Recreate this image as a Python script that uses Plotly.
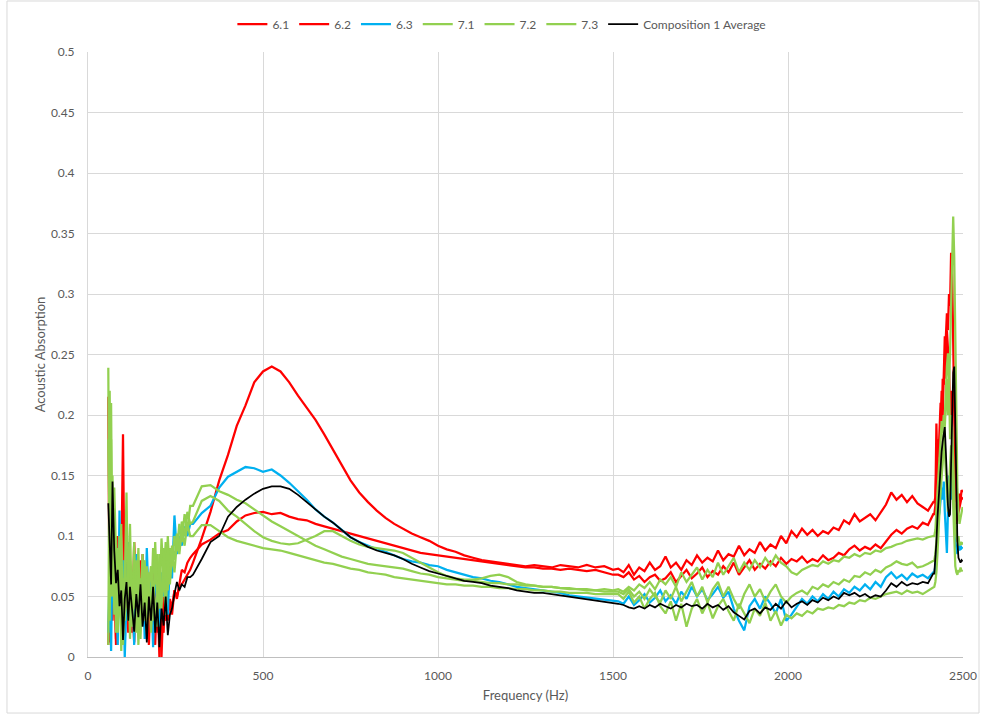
import plotly.graph_objects as go

# Sample frequencies (Hz), split into bands
F_LOW = [58, 62, 66, 70, 75, 80, 85, 90, 95, 100, 105, 110, 115, 120, 126, 132, 138, 144, 150, 156,
         162, 168, 174, 180, 186, 192, 198, 204, 210, 216, 222, 228, 234, 240, 247, 254, 261, 268, 276, 284, 292]
F_MID = [300, 325, 350, 375, 400, 425, 450, 475, 500, 525, 550, 575, 600, 625, 650, 675, 700, 725, 750, 775,
         800, 825, 850, 875, 900, 925, 950, 975, 1000, 1025, 1050, 1075, 1100, 1125, 1150, 1175, 1200, 1225,
         1250, 1275, 1300, 1325, 1350, 1375, 1400, 1425, 1450, 1475, 1500]
F_HIGH = [1515, 1530, 1545, 1560, 1575, 1590, 1605, 1620, 1635, 1650, 1665, 1680, 1695, 1710, 1725, 1740,
          1755, 1770, 1785, 1800, 1815, 1830, 1845, 1860, 1875, 1890, 1905, 1920, 1935, 1950, 1965, 1980,
          1995, 2010, 2025, 2040, 2055, 2070, 2085, 2100, 2115, 2130, 2145, 2160, 2175, 2190, 2205, 2220,
          2235, 2250, 2265, 2280, 2295, 2310, 2325, 2340, 2355, 2370, 2385, 2400, 2415]
F_PEAK = [2418, 2421, 2424, 2427, 2430, 2433, 2436, 2439, 2442, 2445, 2448, 2451, 2454, 2457, 2460, 2463,
          2466, 2469, 2472, 2475, 2478, 2481, 2484, 2487, 2490, 2493, 2496, 2499]

# ---- Sample 6.1 ----
S61_LOW = [0.215, 0.012, 0.090, 0.030, 0.075, 0.010, 0.060, 0.045, 0.070, 0.184,
           0.040, 0.065, 0.020, 0.075, 0.050, 0.012, 0.070, 0.035, 0.080, 0.028,
           0.062, 0.015, 0.055, 0.040, 0.075, 0.010, 0.060, 0.000, 0.045, 0.020,
           0.062, 0.030, 0.048, 0.040, 0.055, 0.050, 0.058, 0.060, 0.064, 0.068, 0.072]
S61_MID = [0.078, 0.098, 0.120, 0.146, 0.167, 0.191, 0.208, 0.227, 0.236, 0.240,
           0.236, 0.227, 0.216, 0.206, 0.196, 0.184, 0.171, 0.158, 0.146, 0.136,
           0.128, 0.121, 0.115, 0.110, 0.106, 0.102, 0.099, 0.096, 0.092, 0.089,
           0.087, 0.084, 0.082, 0.080, 0.079, 0.078, 0.077, 0.076, 0.075, 0.076,
           0.075, 0.074, 0.076, 0.075, 0.074, 0.076, 0.074, 0.075, 0.072]
S61_HIGH = [0.073, 0.070, 0.076, 0.068, 0.074, 0.071, 0.078, 0.072, 0.075, 0.083,
            0.074, 0.078, 0.072, 0.080, 0.076, 0.084, 0.078, 0.082, 0.079, 0.088,
            0.080, 0.085, 0.083, 0.092, 0.084, 0.089, 0.086, 0.095, 0.088, 0.093,
            0.090, 0.100, 0.094, 0.104, 0.099, 0.106, 0.101, 0.105, 0.100, 0.104,
            0.102, 0.107, 0.105, 0.113, 0.110, 0.118, 0.112, 0.115, 0.118, 0.113,
            0.120, 0.126, 0.136, 0.130, 0.134, 0.128, 0.133, 0.127, 0.124, 0.121, 0.128]
S61_PEAK = [0.128, 0.132, 0.150, 0.180, 0.165, 0.195, 0.210, 0.190, 0.230, 0.225,
            0.250, 0.275, 0.284, 0.270, 0.300, 0.290, 0.334, 0.320, 0.250, 0.180,
            0.140, 0.128, 0.132, 0.125, 0.135, 0.130, 0.138, 0.136]

# ---- Sample 6.2 ----
S62_LOW = [0.010, 0.060, 0.110, 0.035, 0.080, 0.015, 0.100, 0.050, 0.030, 0.070,
           0.010, 0.085, 0.045, 0.060, 0.020, 0.095, 0.050, 0.070, 0.025, 0.085,
           0.040, 0.070, 0.010, 0.065, 0.035, 0.080, 0.020, 0.060, 0.000, 0.050,
           0.030, 0.040, 0.045, 0.035, 0.055, 0.048, 0.062, 0.072, 0.070, 0.078, 0.082]
S62_MID = [0.085, 0.093, 0.097, 0.102, 0.105, 0.112, 0.117, 0.119, 0.120, 0.118,
           0.119, 0.116, 0.114, 0.113, 0.110, 0.108, 0.106, 0.104, 0.102, 0.100,
           0.098, 0.096, 0.094, 0.092, 0.090, 0.088, 0.086, 0.085, 0.084, 0.083,
           0.082, 0.081, 0.080, 0.079, 0.078, 0.077, 0.076, 0.075, 0.074, 0.074,
           0.073, 0.073, 0.072, 0.073, 0.072, 0.071, 0.072, 0.070, 0.068]
S62_HIGH = [0.068, 0.066, 0.070, 0.064, 0.067, 0.062, 0.066, 0.068, 0.063, 0.065,
            0.070, 0.062, 0.067, 0.072, 0.065, 0.069, 0.074, 0.066, 0.071, 0.068,
            0.075, 0.070, 0.078, 0.068, 0.074, 0.080, 0.072, 0.077, 0.073, 0.079,
            0.075, 0.082, 0.077, 0.081, 0.079, 0.083, 0.078, 0.081, 0.079, 0.084,
            0.080, 0.082, 0.086, 0.084, 0.089, 0.092, 0.088, 0.091, 0.089, 0.093,
            0.090, 0.096, 0.101, 0.105, 0.102, 0.106, 0.108, 0.106, 0.111, 0.109, 0.118]
S62_PEAK = [0.118, 0.125, 0.193, 0.150, 0.140, 0.170, 0.190, 0.220, 0.200, 0.240,
            0.265, 0.230, 0.270, 0.255, 0.240, 0.200, 0.220, 0.180, 0.150, 0.130,
            0.120, 0.110, 0.115, 0.120, 0.125, 0.128, 0.132, 0.130]

# ---- Sample 6.3 ----
S63_LOW = [0.020, 0.070, 0.005, 0.090, 0.040, 0.060, 0.010, 0.121, 0.030, 0.080,
           0.000, 0.060, 0.095, 0.035, 0.070, 0.010, 0.085, 0.050, 0.030, 0.075,
           0.015, 0.090, 0.040, 0.065, 0.008, 0.080, 0.045, 0.025, 0.070, 0.050,
           0.090, 0.035, 0.080, 0.065, 0.117, 0.085, 0.100, 0.092, 0.108, 0.100, 0.110]
S63_MID = [0.110, 0.119, 0.125, 0.140, 0.149, 0.153, 0.157, 0.156, 0.153, 0.155,
           0.150, 0.144, 0.137, 0.130, 0.122, 0.116, 0.111, 0.105, 0.099, 0.095,
           0.092, 0.089, 0.087, 0.084, 0.081, 0.079, 0.078, 0.076, 0.075, 0.072,
           0.070, 0.068, 0.066, 0.065, 0.063, 0.062, 0.060, 0.058, 0.057, 0.056,
           0.055, 0.054, 0.053, 0.051, 0.050, 0.049, 0.048, 0.047, 0.046]
S63_HIGH = [0.046, 0.044, 0.050, 0.043, 0.047, 0.052, 0.045, 0.049, 0.055, 0.046,
            0.051, 0.044, 0.054, 0.048, 0.058, 0.050, 0.056, 0.047, 0.052, 0.058,
            0.049, 0.054, 0.040, 0.030, 0.022, 0.042, 0.048, 0.040, 0.050, 0.044,
            0.036, 0.048, 0.030, 0.035, 0.042, 0.048, 0.044, 0.050, 0.046, 0.052,
            0.048, 0.054, 0.050, 0.056, 0.053, 0.058, 0.055, 0.060, 0.056, 0.062,
            0.058, 0.066, 0.070, 0.065, 0.068, 0.064, 0.069, 0.066, 0.068, 0.065, 0.070]
S63_PEAK = [0.070, 0.075, 0.090, 0.100, 0.115, 0.120, 0.135, 0.140, 0.130, 0.145,
            0.120, 0.100, 0.086, 0.120, 0.150, 0.140, 0.130, 0.160, 0.140, 0.110,
            0.095, 0.090, 0.085, 0.095, 0.088, 0.092, 0.090, 0.091]

# ---- Sample 7.1 ----
S71_LOW = [0.239, 0.030, 0.180, 0.060, 0.120, 0.020, 0.090, 0.040, 0.110, 0.010,
           0.060, 0.136, 0.030, 0.080, 0.045, 0.095, 0.020, 0.070, 0.050, 0.085,
           0.030, 0.075, 0.055, 0.040, 0.090, 0.060, 0.085, 0.040, 0.098, 0.065,
           0.095, 0.055, 0.090, 0.075, 0.100, 0.088, 0.110, 0.095, 0.118, 0.105, 0.125]
S71_MID = [0.125, 0.141, 0.142, 0.137, 0.134, 0.130, 0.127, 0.122, 0.117, 0.112,
           0.108, 0.104, 0.100, 0.096, 0.092, 0.089, 0.086, 0.083, 0.081, 0.079,
           0.077, 0.076, 0.075, 0.074, 0.073, 0.071, 0.069, 0.068, 0.066, 0.065,
           0.064, 0.063, 0.063, 0.062, 0.061, 0.061, 0.060, 0.060, 0.059, 0.059,
           0.058, 0.058, 0.057, 0.057, 0.056, 0.056, 0.055, 0.056, 0.055]
S71_HIGH = [0.056, 0.054, 0.058, 0.055, 0.060, 0.057, 0.062, 0.056, 0.064, 0.060,
            0.066, 0.058, 0.070, 0.062, 0.068, 0.074, 0.064, 0.072, 0.066, 0.078,
            0.068, 0.075, 0.082, 0.070, 0.078, 0.072, 0.080, 0.074, 0.082, 0.076,
            0.084, 0.078, 0.075, 0.070, 0.068, 0.072, 0.074, 0.076, 0.075, 0.079,
            0.077, 0.080, 0.079, 0.083, 0.082, 0.085, 0.083, 0.086, 0.085, 0.088,
            0.087, 0.090, 0.091, 0.093, 0.094, 0.096, 0.097, 0.098, 0.097, 0.099, 0.100]
S71_PEAK = [0.100, 0.105, 0.120, 0.140, 0.150, 0.165, 0.180, 0.195, 0.185, 0.200,
            0.190, 0.215, 0.230, 0.200, 0.220, 0.250, 0.290, 0.320, 0.364, 0.330,
            0.250, 0.180, 0.140, 0.120, 0.110, 0.115, 0.120, 0.124]

# ---- Sample 7.2 ----
S72_LOW = [0.010, 0.220, 0.050, 0.150, 0.035, 0.100, 0.020, 0.075, 0.005, 0.065,
           0.030, 0.050, 0.090, 0.015, 0.060, 0.040, 0.080, 0.010, 0.065, 0.035,
           0.070, 0.020, 0.060, 0.075, 0.030, 0.095, 0.045, 0.070, 0.040, 0.090,
           0.055, 0.100, 0.065, 0.092, 0.080, 0.102, 0.090, 0.112, 0.100, 0.120, 0.110]
S72_MID = [0.112, 0.129, 0.133, 0.129, 0.121, 0.116, 0.110, 0.104, 0.099, 0.096,
           0.094, 0.093, 0.094, 0.097, 0.100, 0.104, 0.104, 0.100, 0.096, 0.093,
           0.091, 0.090, 0.089, 0.088, 0.086, 0.082, 0.078, 0.074, 0.070, 0.067,
           0.065, 0.064, 0.064, 0.065, 0.067, 0.068, 0.066, 0.062, 0.060, 0.059,
           0.058, 0.058, 0.057, 0.056, 0.056, 0.055, 0.055, 0.054, 0.054]
S72_HIGH = [0.054, 0.052, 0.056, 0.050, 0.054, 0.048, 0.056, 0.050, 0.045, 0.055,
            0.048, 0.058, 0.046, 0.054, 0.062, 0.050, 0.058, 0.045, 0.056, 0.062,
            0.050, 0.058, 0.048, 0.040, 0.052, 0.060, 0.050, 0.056, 0.046, 0.054,
            0.060, 0.050, 0.045, 0.050, 0.053, 0.055, 0.052, 0.058, 0.056, 0.060,
            0.058, 0.062, 0.060, 0.064, 0.062, 0.067, 0.066, 0.070, 0.068, 0.072,
            0.070, 0.074, 0.076, 0.079, 0.077, 0.076, 0.078, 0.074, 0.075, 0.077, 0.080]
S72_PEAK = [0.080, 0.085, 0.095, 0.110, 0.120, 0.130, 0.140, 0.150, 0.160, 0.175,
            0.200, 0.220, 0.240, 0.251, 0.230, 0.180, 0.200, 0.190, 0.160, 0.130,
            0.110, 0.100, 0.095, 0.100, 0.092, 0.095, 0.093, 0.095]

# ---- Sample 7.3 ----
S73_LOW = [0.180, 0.100, 0.210, 0.050, 0.140, 0.070, 0.030, 0.100, 0.055, 0.020,
           0.080, 0.040, 0.070, 0.110, 0.025, 0.065, 0.045, 0.090, 0.015, 0.060,
           0.080, 0.035, 0.070, 0.020, 0.055, 0.045, 0.025, 0.085, 0.050, 0.065,
           0.035, 0.080, 0.060, 0.085, 0.070, 0.095, 0.085, 0.105, 0.092, 0.110, 0.100]
S73_MID = [0.100, 0.109, 0.109, 0.104, 0.099, 0.096, 0.094, 0.092, 0.090, 0.089,
           0.088, 0.086, 0.084, 0.082, 0.080, 0.078, 0.077, 0.075, 0.073, 0.072,
           0.070, 0.069, 0.068, 0.066, 0.065, 0.064, 0.063, 0.062, 0.061, 0.060,
           0.060, 0.059, 0.059, 0.058, 0.058, 0.057, 0.057, 0.056, 0.056, 0.055,
           0.055, 0.054, 0.054, 0.053, 0.053, 0.053, 0.052, 0.052, 0.052]
S73_HIGH = [0.052, 0.048, 0.054, 0.045, 0.050, 0.040, 0.048, 0.053, 0.042, 0.036,
            0.046, 0.030, 0.044, 0.025, 0.040, 0.048, 0.036, 0.045, 0.032, 0.042,
            0.048, 0.038, 0.030, 0.044, 0.036, 0.028, 0.040, 0.034, 0.045, 0.030,
            0.038, 0.026, 0.035, 0.032, 0.036, 0.034, 0.038, 0.036, 0.040, 0.039,
            0.041, 0.040, 0.043, 0.042, 0.045, 0.044, 0.047, 0.046, 0.049, 0.048,
            0.050, 0.052, 0.053, 0.054, 0.052, 0.055, 0.053, 0.054, 0.052, 0.055, 0.058]
S73_PEAK = [0.058, 0.062, 0.070, 0.085, 0.100, 0.120, 0.140, 0.160, 0.175, 0.190,
            0.170, 0.150, 0.130, 0.120, 0.140, 0.160, 0.175, 0.150, 0.120, 0.090,
            0.075, 0.070, 0.068, 0.072, 0.070, 0.074, 0.071, 0.072]

# ---- Composition 1 average ----
AVG_LOW = [0.127, 0.098, 0.060, 0.145, 0.088, 0.061, 0.072, 0.042, 0.055, 0.014,
           0.048, 0.062, 0.030, 0.058, 0.040, 0.021, 0.052, 0.033, 0.060, 0.025,
           0.045, 0.012, 0.050, 0.030, 0.058, 0.020, 0.045, 0.008, 0.040, 0.026,
           0.050, 0.018, 0.035, 0.040, 0.052, 0.062, 0.055, 0.060, 0.058, 0.066, 0.066]
AVG_MID = [0.068, 0.081, 0.095, 0.100, 0.116, 0.124, 0.130, 0.135, 0.139, 0.141,
           0.141, 0.139, 0.134, 0.128, 0.122, 0.116, 0.111, 0.105, 0.099, 0.095,
           0.091, 0.088, 0.086, 0.084, 0.081, 0.077, 0.074, 0.071, 0.069, 0.067,
           0.065, 0.063, 0.062, 0.061, 0.059, 0.058, 0.057, 0.055, 0.054, 0.053,
           0.053, 0.052, 0.051, 0.050, 0.049, 0.048, 0.047, 0.046, 0.045]
AVG_HIGH = [0.044, 0.043, 0.041, 0.040, 0.042, 0.040, 0.043, 0.041, 0.044, 0.042,
            0.040, 0.043, 0.041, 0.044, 0.042, 0.043, 0.040, 0.044, 0.041, 0.043,
            0.039, 0.042, 0.037, 0.034, 0.031, 0.038, 0.040, 0.036, 0.041, 0.039,
            0.044, 0.040, 0.046, 0.041, 0.044, 0.046, 0.043, 0.047, 0.045, 0.049,
            0.047, 0.050, 0.048, 0.053, 0.051, 0.053, 0.050, 0.052, 0.049, 0.051,
            0.050, 0.055, 0.061, 0.058, 0.062, 0.059, 0.061, 0.060, 0.062, 0.061, 0.069]
AVG_PEAK = [0.069, 0.080, 0.095, 0.115, 0.130, 0.145, 0.160, 0.170, 0.178, 0.185,
            0.190, 0.170, 0.140, 0.125, 0.116, 0.118, 0.160, 0.205, 0.235, 0.240,
            0.190, 0.130, 0.095, 0.082, 0.080, 0.078, 0.080, 0.079]

FREQ = F_LOW + F_MID + F_HIGH + F_PEAK

SERIES = [
    ("6.1", S61_LOW + S61_MID + S61_HIGH + S61_PEAK, "#FF0000", 2.25),
    ("6.2", S62_LOW + S62_MID + S62_HIGH + S62_PEAK, "#FF0000", 2.25),
    ("6.3", S63_LOW + S63_MID + S63_HIGH + S63_PEAK, "#00B0F0", 2.25),
    ("7.1", S71_LOW + S71_MID + S71_HIGH + S71_PEAK, "#92D050", 2.25),
    ("7.2", S72_LOW + S72_MID + S72_HIGH + S72_PEAK, "#92D050", 2.25),
    ("7.3", S73_LOW + S73_MID + S73_HIGH + S73_PEAK, "#92D050", 2.25),
    ("Composition 1 Average", AVG_LOW + AVG_MID + AVG_HIGH + AVG_PEAK, "#000000", 1.75),
]

for name, vals, _, _ in SERIES:
    assert len(vals) == len(FREQ), (name, len(vals), len(FREQ))

fig = go.Figure()
for name, vals, color, width in SERIES:
    fig.add_trace(go.Scatter(x=FREQ, y=vals, mode="lines", name=name,
                             line=dict(color=color, width=width)))

GRID = "#D9D9D9"
fig.update_layout(
    width=981, height=715, autosize=False,
    margin=dict(l=88, r=18, t=52, b=58, autoexpand=False),
    paper_bgcolor="white", plot_bgcolor="white",
    font=dict(family="Lato, 'Open Sans', sans-serif", size=12, color="#595959"),
    legend=dict(orientation="h", x=0.473, xanchor="center", y=1.046, yanchor="middle",
                font=dict(size=12, color="#595959"), bgcolor="rgba(0,0,0,0)",
                itemwidth=30, tracegroupgap=0),
    xaxis=dict(range=[0, 2500], tick0=0, dtick=500, showgrid=True, gridcolor=GRID, gridwidth=1,
               zeroline=False, showline=True, linecolor="#BFBFBF", linewidth=1, ticks="",
               automargin=False, ticklabelstandoff=8,
               title=dict(text="Frequency (Hz)", font=dict(size=13, color="#595959"), standoff=8)),
    yaxis=dict(range=[0, 0.5], tick0=0, dtick=0.05, showgrid=True, gridcolor=GRID, gridwidth=1,
               zeroline=False, showline=True, linecolor=GRID, linewidth=1, ticks="",
               automargin=False, ticklabelstandoff=10,
               title=dict(text="Acoustic Absorption", font=dict(size=13, color="#595959"), standoff=2)),
    shapes=[dict(type="rect", xref="paper", yref="paper",
                 x0=-0.0926, x1=1.0183, y0=-0.0926, y1=1.0843,
                 line=dict(color="#D9D9D9", width=1), fillcolor="rgba(0,0,0,0)", layer="below")],
)

fig.write_html("out.html", config={"displayModeBar": False})
